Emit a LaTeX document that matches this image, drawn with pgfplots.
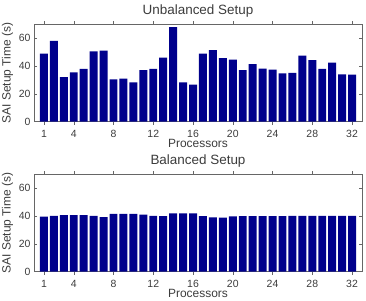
\documentclass[border=0pt]{standalone}
\usepackage{fontspec}
\setmainfont{Liberation Sans}
\usepackage{pgfplots}
\pgfplotsset{compat=1.18}
\definecolor{barblue}{RGB}{0,0,140}
\definecolor{txt}{RGB}{60,60,60}
\pgfplotsset{
  myaxis/.style={
    scale only axis,
    width=328bp, height=97.4bp,
    xmin=0, xmax=33, ymin=0, ymax=70,
    xtick={1,4,8,12,16,20,24,28,32},
    ytick={0,20,40,60},
    tick align=inside,
    major tick length=3pt,
    axis line style={gray!80!black, line width=0.5pt},
    tick style={gray!80!black, line width=0.5pt},
    /pgf/number format/assume math mode=true,
    tick label style={font=\fontsize{10.5}{12}\selectfont, text=txt},
    xticklabel style={yshift=-2pt},
    label style={font=\fontsize{12}{13}\selectfont, text=txt},
    every axis title shift=0pt,
    title style={font=\fontsize{13.5}{15}\selectfont, text=txt, at={(axis description cs:0.5,1.105)}, anchor=base, yshift=0pt},
    xlabel={Processors},
    ylabel={SAI Setup Time (s)},
    xlabel style={at={(axis description cs:0.5,-0.27)}, anchor=base},
    ylabel style={at={(axis description cs:-0.081,0.5)}, anchor=center, rotate=0},
    ybar, bar width=0.8, bar shift=0pt,
  }
}
\begin{document}
\begin{tikzpicture}[x=1bp,y=1bp]
\path[use as bounding box] (0,0) rectangle (366,301);
\begin{axis}[myaxis, at={(34bp,179.3bp)}, anchor=south west, title={Unbalanced Setup}]
\addplot[fill=barblue, draw=none] coordinates {
(1,49) (2,58) (3,32) (4,35.5) (5,38) (6,50.5) (7,51) (8,30.5) (9,31) (10,28.3)
(11,37) (12,38) (13,46) (14,68) (15,28.3) (16,26.6) (17,49) (18,51.4) (19,45.6) (20,44.6)
(21,37) (22,41.3) (23,38.2) (24,37.4) (25,34.8) (26,35) (27,47.5) (28,44.2) (29,37.9) (30,42.5)
(31,34) (32,33.8)};
\end{axis}
\begin{axis}[myaxis, at={(34bp,29.3bp)}, anchor=south west, title={Balanced Setup}]
\addplot[fill=barblue, draw=none] coordinates {
(1,39.5) (2,40.2) (3,40.7) (4,40.7) (5,40.7) (6,40.2) (7,39.3) (8,41.5) (9,41.5) (10,41.5)
(11,41) (12,40.2) (13,40) (14,41.9) (15,41.9) (16,41.9) (17,40) (18,39) (19,38.8) (20,39.8)
(21,40) (22,40) (23,40) (24,40) (25,40) (26,40.2) (27,40.2) (28,40.2) (29,40.2) (30,40.2)
(31,40.2) (32,40.2)};
\end{axis}
\end{tikzpicture}
\end{document}
